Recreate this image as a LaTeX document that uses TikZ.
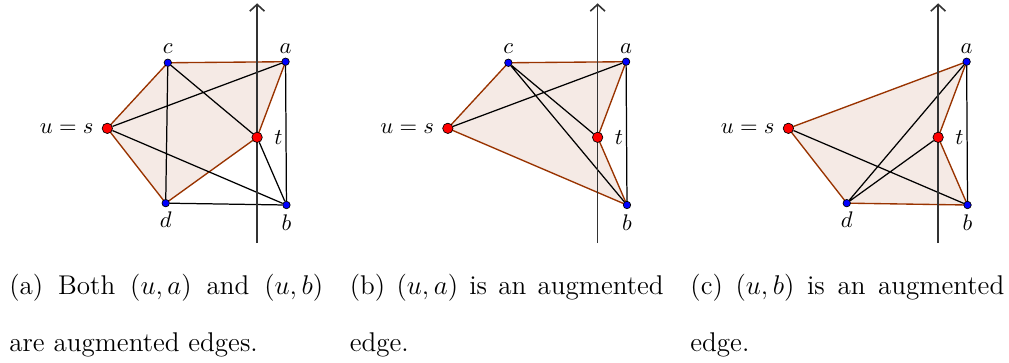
\documentclass[tikz,border=0pt]{standalone}
\usepackage{amsmath}
\usetikzlibrary{arrows.meta,backgrounds}
\definecolor{hullline}{RGB}{153,51,0}
\definecolor{hullfill}{RGB}{245,234,229}

\begin{document}
\begin{tikzpicture}[
    >={Straight Barb[length=3pt,width=6.5pt]},
    vtx/.style={circle, draw, line width=0.3pt, inner sep=0pt, minimum size=3.3pt, fill=blue},
    term/.style={vtx, minimum size=4.6pt, fill=red},
    lbl/.style={font=\fontsize{10}{12}\selectfont, inner sep=1.5pt},
    edg/.style={line width=0.55pt},
    hull/.style={draw=hullline, fill=hullfill, line width=0.6pt},
    axis/.style={->, line width=0.7pt, black!80},
    subcap/.style={anchor=base west, inner sep=0pt, text width=139pt, align=justify,
                font=\fontsize{12}{25.1}\selectfont}
  ]
  % (a) both edges augmented
  \begin{scope}[shift={(1.671,0)}, name prefix=pa-]
    \node[term, label={[lbl,label distance=2pt]left:$u=s$}] (s) at (0,0) {};
    \node[vtx, label={[lbl,label distance=0.5pt]above:$c$}] (c) at (0.942,1.021) {};
    \node[vtx, label={[lbl,label distance=0pt]above:$a$}] (a) at (2.775,1.037) {};
    \node[term, label={[lbl,label distance=3.5pt]right:$t$}] (t) at (2.332,-0.140) {};
    \node[vtx, label={[lbl,label distance=0.5pt]below:$d$}] (d) at (0.909,-1.165) {};
    \node[vtx, label={[lbl,label distance=1pt]below:$b$}] (b) at (2.789,-1.194) {};
    \coordinate (bot) at (2.332,-1.786);
    \coordinate (top) at (2.332,1.946);
    \begin{scope}[on background layer]
      \filldraw[hull] (s.center) -- (c.center) -- (a.center) -- (t.center) -- (d.center) -- cycle;
      \draw[edg] (c) -- (d) (c) -- (t) (s) -- (a) (s) -- (b) (t) -- (b) (a) -- (b) (d) -- (b);
      \draw[axis] (bot) -- (top);
    \end{scope}
    \node[subcap] (cap) at (-1.532,-2.585) {(a) Both $(u,a)$ and $(u,b)$\linebreak are augmented edges.};
  \end{scope}

  % (b) only (u,a)
  \begin{scope}[shift={(6.973,0)}, name prefix=pb-]
    \node[term, label={[lbl,label distance=2pt]left:$u=s$}] (s) at (0,0) {};
    \node[vtx, label={[lbl,label distance=0.5pt]above:$c$}] (c) at (0.942,1.021) {};
    \node[vtx, label={[lbl,label distance=0pt]above:$a$}] (a) at (2.775,1.037) {};
    \node[term, label={[lbl,label distance=3.5pt]right:$t$}] (t) at (2.332,-0.140) {};
    \node[vtx, label={[lbl,label distance=1pt]below:$b$}] (b) at (2.789,-1.194) {};
    \coordinate (bot) at (2.332,-1.786);
    \coordinate (top) at (2.332,1.946);
    \begin{scope}[on background layer]
      \filldraw[hull] (s.center) -- (c.center) -- (a.center) -- (t.center) -- (b.center) -- cycle;
      \draw[edg] (s) -- (a) (c) -- (t) (c) -- (b) (a) -- (b);
      \draw[axis] (bot) -- (top);
    \end{scope}
    \node[subcap] (cap) at (-1.532,-2.585) {(b) $(u,a)$ is an augmented\linebreak edge.};
  \end{scope}

  % (c) only (u,b)
  \begin{scope}[shift={(12.275,0)}, name prefix=pc-]
    \node[term, label={[lbl,label distance=2pt]left:$u=s$}] (s) at (0,0) {};
    \node[vtx, label={[lbl,label distance=0pt]above:$a$}] (a) at (2.775,1.037) {};
    \node[term, label={[lbl,label distance=3.5pt]right:$t$}] (t) at (2.332,-0.140) {};
    \node[vtx, label={[lbl,label distance=0.5pt]below:$d$}] (d) at (0.909,-1.165) {};
    \node[vtx, label={[lbl,label distance=1pt]below:$b$}] (b) at (2.789,-1.194) {};
    \coordinate (bot) at (2.332,-1.786);
    \coordinate (top) at (2.332,1.946);
    \begin{scope}[on background layer]
      \filldraw[hull] (s.center) -- (a.center) -- (t.center) -- (b.center) -- (d.center) -- cycle;
      \draw[edg] (s) -- (b) (d) -- (a) (d) -- (t) (a) -- (b);
      \draw[axis] (bot) -- (top);
    \end{scope}
    \node[subcap] (cap) at (-1.532,-2.585) {(c) $(u,b)$ is an augmented\linebreak edge.};
  \end{scope}

  \pgfresetboundingbox
  \path[use as bounding box] (0,-3.639) rectangle (15.710,1.998);
\end{tikzpicture}
\end{document}
